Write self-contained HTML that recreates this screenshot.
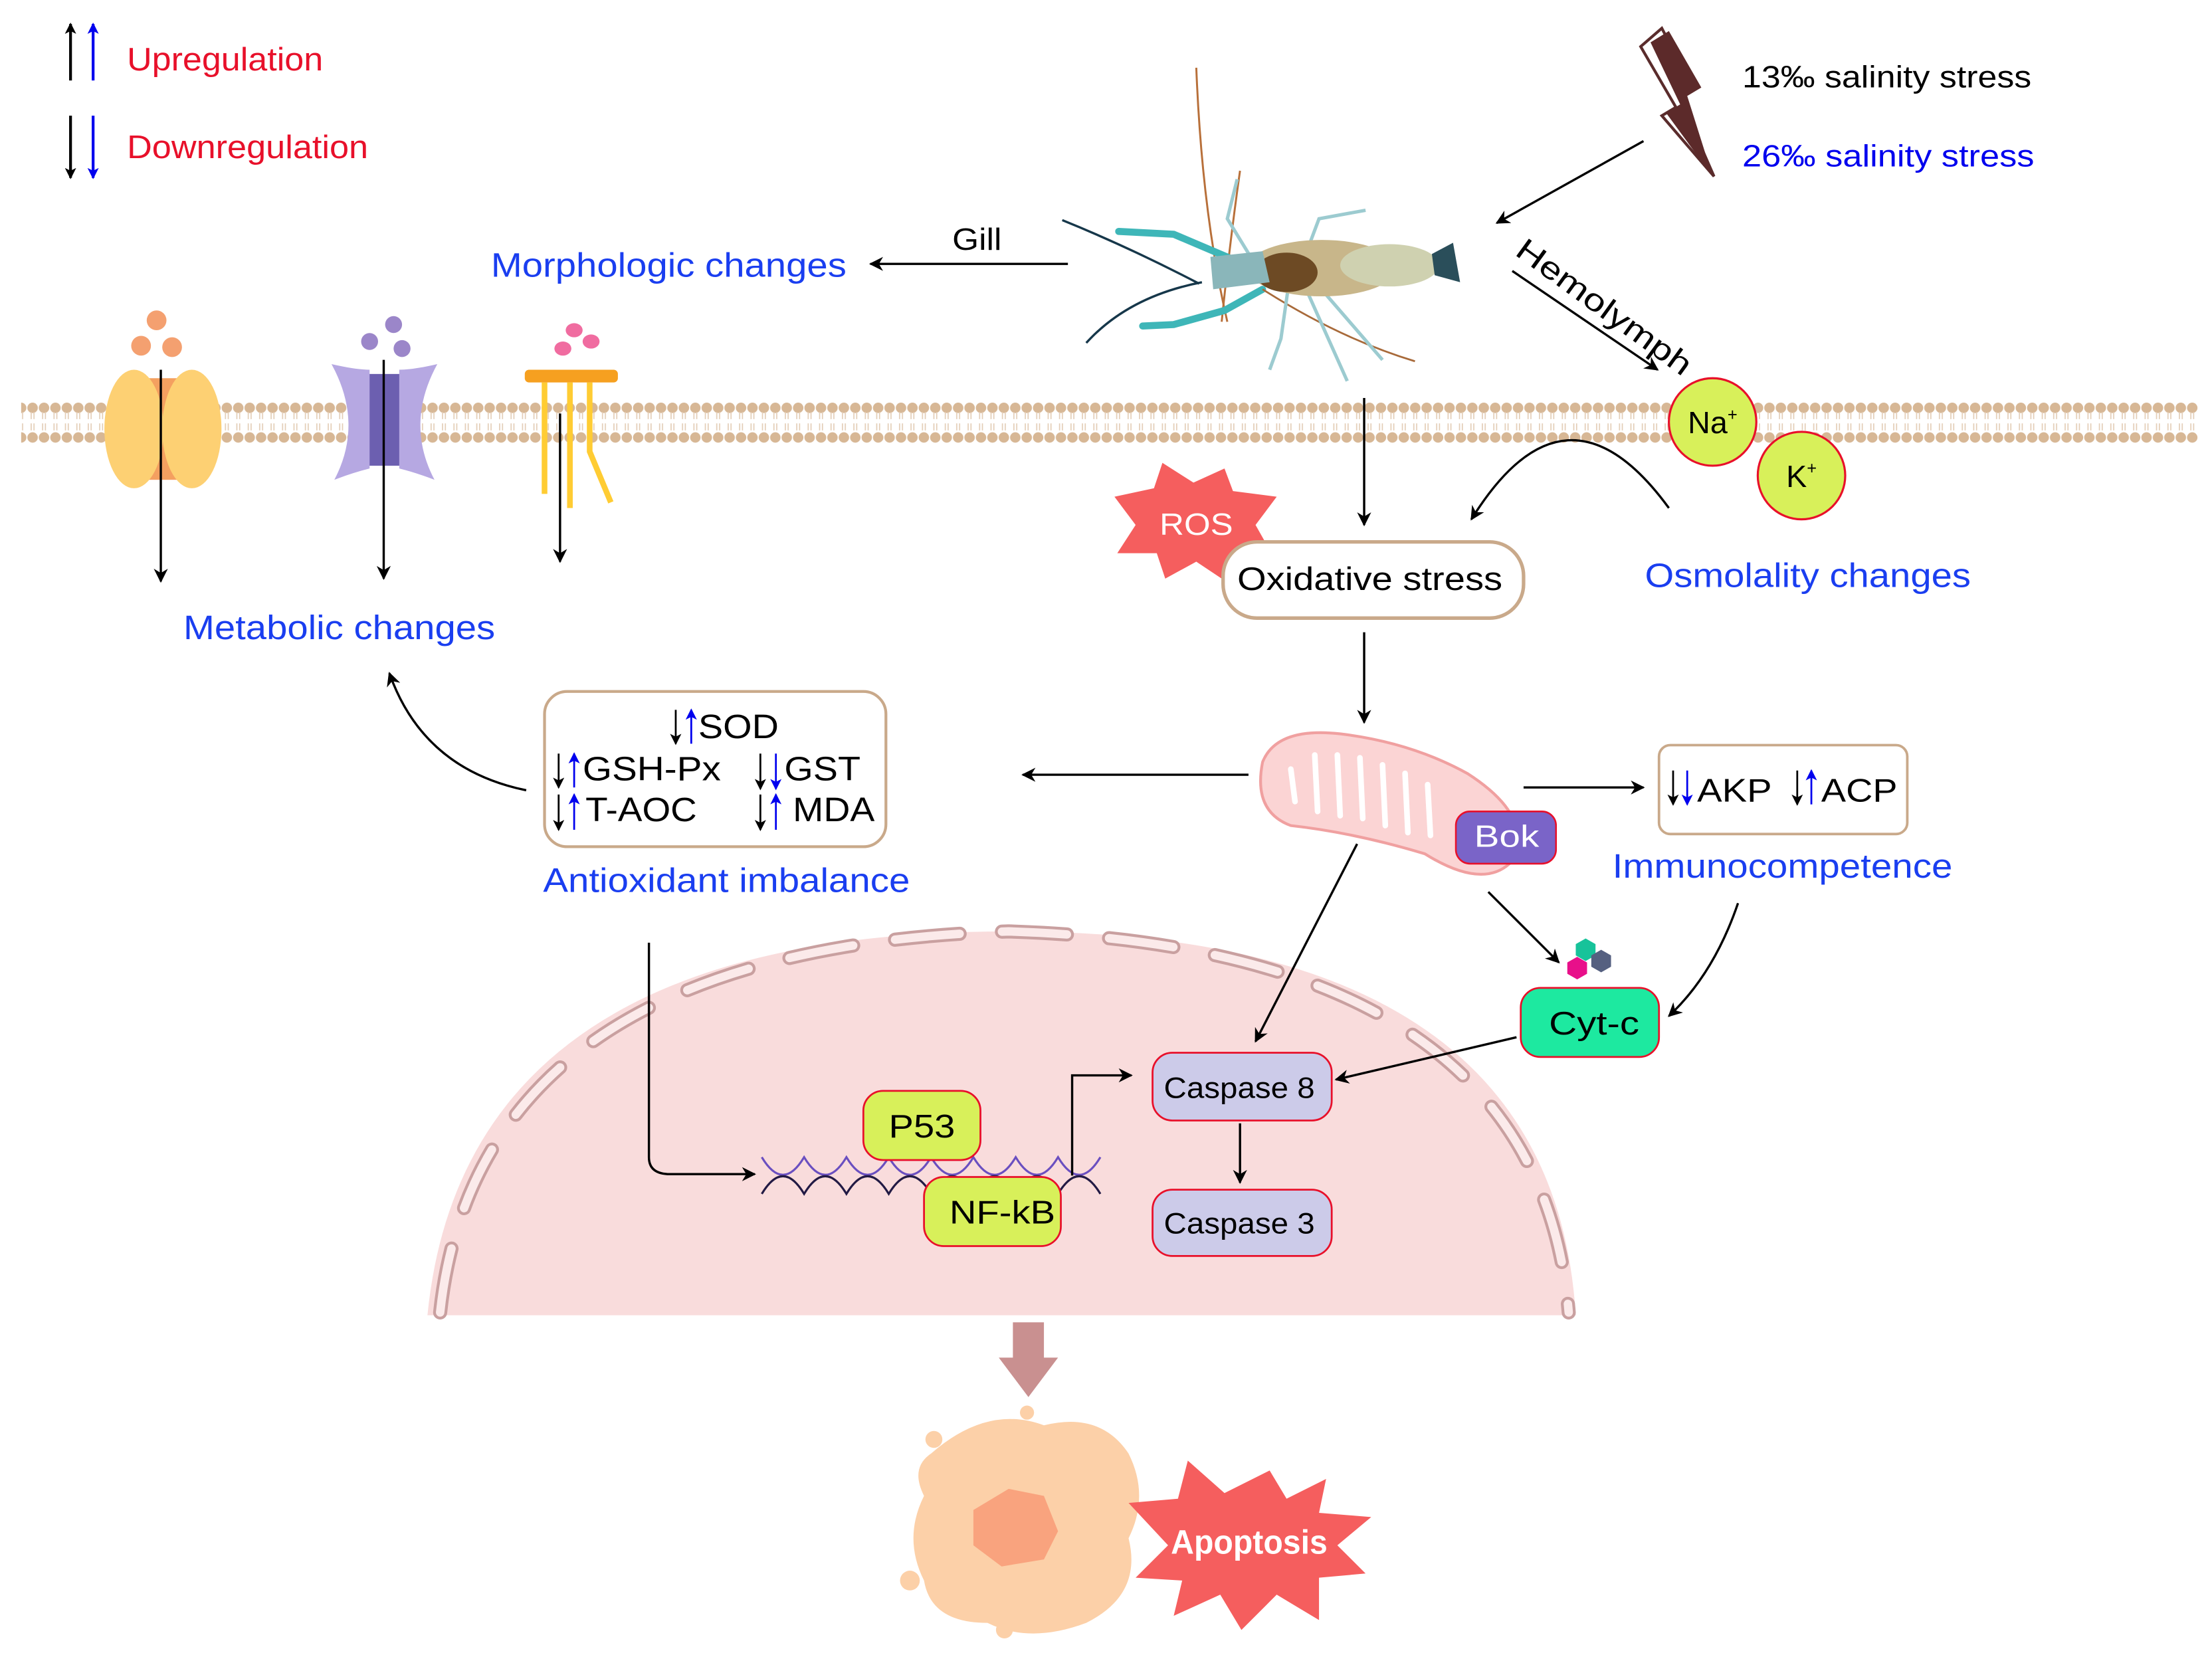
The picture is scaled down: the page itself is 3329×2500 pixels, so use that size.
<!DOCTYPE html>
<html><head><meta charset="utf-8"><style>
html,body{margin:0;padding:0;background:#fff;}
svg{display:block;font-family:"Liberation Sans",Arial,sans-serif;}
</style></head><body>
<svg width="3329" height="2500" viewBox="0 0 1568 1177" preserveAspectRatio="none" xmlns="http://www.w3.org/2000/svg">
<defs>
<marker id="a" markerWidth="10" markerHeight="10" refX="9" refY="5" orient="auto" markerUnits="userSpaceOnUse"><path d="M0,0 L10,5 L0,10 L3,5 z" fill="#000"/></marker>
<marker id="ab" markerWidth="8" markerHeight="8" refX="7" refY="4" orient="auto" markerUnits="userSpaceOnUse"><path d="M0,0 L8,4 L0,8 L2,4 z" fill="#0000ee"/></marker>
<marker id="ak" markerWidth="8" markerHeight="8" refX="7" refY="4" orient="auto" markerUnits="userSpaceOnUse"><path d="M0,0 L8,4 L0,8 L2,4 z" fill="#000"/></marker>
<pattern id="memtop" x="11" y="282" width="8.1" height="40" patternUnits="userSpaceOnUse">
<circle cx="4" cy="7" r="3.7" fill="#d7b795"/>
<line x1="3" y1="10" x2="3" y2="15" stroke="#e3cdb6" stroke-width="0.8"/>
<line x1="5" y1="10" x2="5" y2="15" stroke="#e3cdb6" stroke-width="0.8"/>
<line x1="3" y1="18" x2="3" y2="23" stroke="#e3cdb6" stroke-width="0.8"/>
<line x1="5" y1="18" x2="5" y2="23" stroke="#e3cdb6" stroke-width="0.8"/>
<circle cx="4" cy="28" r="3.7" fill="#d7b795"/>
</pattern>
</defs>

<!-- legend -->
<line x1="50" y1="57" x2="50" y2="17" stroke="#000" stroke-width="2" marker-end="url(#ak)"/>
<line x1="66" y1="57" x2="66" y2="17" stroke="#0000ee" stroke-width="2" marker-end="url(#ab)"/>
<text x="90" y="50" font-size="23" fill="#e8102a" textLength="139" lengthAdjust="spacingAndGlyphs">Upregulation</text>
<line x1="50" y1="82" x2="50" y2="126" stroke="#000" stroke-width="2" marker-end="url(#ak)"/>
<line x1="66" y1="82" x2="66" y2="126" stroke="#0000ee" stroke-width="2" marker-end="url(#ab)"/>
<text x="90" y="112" font-size="23" fill="#e8102a" textLength="171" lengthAdjust="spacingAndGlyphs">Downregulation</text>

<!-- lightning -->
<path d="M1163,33 L1178,20 L1200,62 L1190,68 L1215,125 L1178,82 L1188,76 Z" fill="#fff" stroke="#5a2c2c" stroke-width="2"/>
<path d="M1170,30 L1183,22 L1206,62 L1196,68 L1214,125 L1181,80 L1191,74 Z" fill="#5c2a2a"/>
<text x="1235" y="62" font-size="22" fill="#000" textLength="205" lengthAdjust="spacingAndGlyphs">13‰ salinity stress</text>
<text x="1235" y="118" font-size="22" fill="#0000ee" textLength="207" lengthAdjust="spacingAndGlyphs">26‰ salinity stress</text>
<line x1="1165" y1="100" x2="1061" y2="158" stroke="#000" stroke-width="1.6" marker-end="url(#a)"/>

<!-- shrimp -->
<g>
<path d="M848,48 Q852,150 870,228" stroke="#b8703a" stroke-width="1.4" fill="none"/>
<path d="M879,121 Q872,170 866,228" stroke="#b8703a" stroke-width="1.4" fill="none"/>
<path d="M753,156 Q800,175 850,201" stroke="#16374a" stroke-width="1.6" fill="none"/>
<path d="M770,243 Q800,210 852,200" stroke="#16374a" stroke-width="1.6" fill="none"/>
<path d="M793,164 L832,166 L872,183" stroke="#3eb6b8" stroke-width="5" fill="none" stroke-linecap="round"/>
<path d="M810,231 L832,230 L868,220 L895,205" stroke="#3eb6b8" stroke-width="5" fill="none" stroke-linecap="round"/>
<path d="M895,205 Q950,240 1003,256" stroke="#a86a3a" stroke-width="1.3" fill="none"/>
<g stroke="#9ccbd0" stroke-width="2.4" fill="none">
<path d="M892,191 L870,155 L877,127"/><path d="M923,187 L935,155 L968,149"/>
<path d="M913,205 L908,240 L900,262"/><path d="M925,203 L955,270"/><path d="M935,203 L980,255"/>
</g>
<ellipse cx="937" cy="190" rx="53" ry="20" fill="#c8b68a"/>
<ellipse cx="912" cy="193" rx="22" ry="14" fill="#6d4a24"/>
<ellipse cx="985" cy="188" rx="35" ry="15" fill="#cfd1b0"/>
<path d="M1015,180 L1030,172 L1035,200 L1017,195 Z" fill="#2a4e5a"/>
<path d="M858,182 L895,178 L900,200 L860,205 Z" fill="#8ab6ba"/>
</g>

<!-- gill -->
<text x="675" y="177" font-size="22" textLength="35" lengthAdjust="spacingAndGlyphs">Gill</text>
<line x1="757" y1="187" x2="617" y2="187" stroke="#000" stroke-width="1.6" marker-end="url(#a)"/>
<text x="348" y="196" font-size="24" fill="#1a3ef0" textLength="252" lengthAdjust="spacingAndGlyphs">Morphologic changes</text>

<!-- hemolymph -->
<text x="1073" y="180" font-size="22" transform="rotate(36 1073 180)" textLength="148" lengthAdjust="spacingAndGlyphs">Hemolymph</text>
<line x1="1072" y1="192" x2="1175" y2="262" stroke="#000" stroke-width="1.6" marker-end="url(#a)"/>

<!-- membrane -->
<rect x="15" y="282" width="1543" height="40" fill="url(#memtop)"/>

<!-- channels -->
<g>
<circle cx="111" cy="227" r="7" fill="#f4a070"/><circle cx="100" cy="245" r="7" fill="#f4a070"/><circle cx="122" cy="246" r="7" fill="#f4a070"/>
<rect x="95" y="268" width="43" height="72" fill="#f4a060"/>
<ellipse cx="95" cy="304" rx="21" ry="42" fill="#fdd073"/>
<ellipse cx="136" cy="304" rx="21" ry="42" fill="#fdd073"/>
<circle cx="279" cy="230" r="6" fill="#9b86c9"/><circle cx="262" cy="242" r="6" fill="#9b86c9"/><circle cx="285" cy="247" r="6" fill="#9b86c9"/>
<rect x="255" y="265" width="35" height="65" fill="#6c5fb0"/>
<path d="M235,258 Q252,262 262,262 L262,332 Q250,335 237,340 Q258,300 235,258 Z" fill="#b6a8e2"/>
<path d="M310,258 Q293,262 283,262 L283,332 Q295,335 308,340 Q287,300 310,258 Z" fill="#b6a8e2"/>
<ellipse cx="407" cy="234" rx="6" ry="5" fill="#f06ca0"/><ellipse cx="399" cy="247" rx="6" ry="5" fill="#f06ca0"/><ellipse cx="419" cy="242" rx="6" ry="5" fill="#f06ca0"/>
<rect x="372" y="262" width="66" height="9" rx="3" fill="#f6a020"/>
<line x1="386" y1="271" x2="386" y2="350" stroke="#ffcc33" stroke-width="4"/>
<line x1="404" y1="271" x2="404" y2="360" stroke="#ffcc33" stroke-width="4"/>
<path d="M418,271 L418,320 L433,356" stroke="#ffcc33" stroke-width="4" fill="none"/>
</g>
<line x1="114" y1="262" x2="114" y2="412" stroke="#000" stroke-width="1.6" marker-end="url(#a)"/>
<line x1="272" y1="255" x2="272" y2="410" stroke="#000" stroke-width="1.6" marker-end="url(#a)"/>
<line x1="397" y1="293" x2="397" y2="398" stroke="#000" stroke-width="1.6" marker-end="url(#a)"/>
<text x="130" y="453" font-size="24" fill="#1a3ef0" textLength="221" lengthAdjust="spacingAndGlyphs">Metabolic changes</text>

<!-- oxidative -->
<line x1="967" y1="282" x2="967" y2="372" stroke="#000" stroke-width="1.6" marker-end="url(#a)"/>
<path d="M790,352 L818,346 L824,328 L846,342 L868,332 L874,348 L905,352 L890,372 L903,395 L875,395 L866,410 L848,398 L826,410 L820,392 L792,392 L805,372 Z" fill="#f55e5e"/>
<text x="822" y="379" font-size="22" fill="#fff" textLength="52" lengthAdjust="spacingAndGlyphs">ROS</text>
<rect x="867" y="384" width="213" height="54" rx="24" fill="#fff" stroke="#c9a98a" stroke-width="2.5"/>
<text x="877" y="418" font-size="23" textLength="188" lengthAdjust="spacingAndGlyphs">Oxidative stress</text>
<circle cx="1214" cy="299" r="31" fill="#d8f05a" stroke="#e8102a" stroke-width="1.5"/>
<text x="1214" y="307" font-size="22" text-anchor="middle">Na<tspan font-size="12" dy="-9">+</tspan></text>
<circle cx="1277" cy="337" r="31" fill="#d8f05a" stroke="#e8102a" stroke-width="1.5"/>
<text x="1277" y="345" font-size="22" text-anchor="middle">K<tspan font-size="12" dy="-9">+</tspan></text>
<path d="M1183,360 Q1110,260 1043,368" stroke="#000" stroke-width="1.6" fill="none" marker-end="url(#a)"/>
<text x="1166" y="416" font-size="24" fill="#1a3ef0" textLength="231" lengthAdjust="spacingAndGlyphs">Osmolality changes</text>
<line x1="967" y1="448" x2="967" y2="512" stroke="#000" stroke-width="1.6" marker-end="url(#a)"/>

<!-- mitochondrion -->
<path d="M895,540 Q905,515 950,520 Q1000,526 1040,548 Q1090,580 1070,612 Q1050,630 1010,605 Q960,590 915,585 Q888,575 895,540 Z" fill="#fbd4d4" stroke="#f0a0a0" stroke-width="2"/>
<g stroke="#fff" stroke-width="4" fill="none" stroke-linecap="round">
<path d="M915,545 L918,568"/><path d="M932,535 L934,575"/><path d="M948,535 L950,578"/><path d="M964,537 L966,580"/><path d="M980,542 L982,585"/><path d="M996,548 L998,590"/><path d="M1012,556 L1014,592"/>
</g>
<rect x="1032" y="575" width="71" height="37" rx="10" fill="#7a64c8" stroke="#e8102a" stroke-width="1.2"/>
<text x="1045" y="600" font-size="22" fill="#fff" textLength="46" lengthAdjust="spacingAndGlyphs">Bok</text>
<line x1="885" y1="549" x2="725" y2="549" stroke="#000" stroke-width="1.6" marker-end="url(#a)"/>
<line x1="1080" y1="558" x2="1165" y2="558" stroke="#000" stroke-width="1.6" marker-end="url(#a)"/>

<!-- AKP box -->
<rect x="1176" y="528" width="176" height="63" rx="8" fill="#fff" stroke="#c9a98a" stroke-width="1.8"/>
<line x1="1186" y1="546" x2="1186" y2="570" stroke="#000" stroke-width="1.3" marker-end="url(#ak)"/>
<line x1="1196" y1="546" x2="1196" y2="570" stroke="#0000ee" stroke-width="1.3" marker-end="url(#ab)"/>
<text x="1203" y="568" font-size="23" textLength="53" lengthAdjust="spacingAndGlyphs">AKP</text>
<line x1="1274" y1="546" x2="1274" y2="570" stroke="#000" stroke-width="1.3" marker-end="url(#ak)"/>
<line x1="1284" y1="570" x2="1284" y2="546" stroke="#0000ee" stroke-width="1.3" marker-end="url(#ab)"/>
<text x="1291" y="568" font-size="23" textLength="54" lengthAdjust="spacingAndGlyphs">ACP</text>
<text x="1143" y="622" font-size="24" fill="#1a3ef0" textLength="241" lengthAdjust="spacingAndGlyphs">Immunocompetence</text>

<!-- antioxidant box -->
<rect x="386" y="490" width="242" height="110" rx="16" fill="#fff" stroke="#c9a98a" stroke-width="2"/>
<g stroke-width="1.3">
<line x1="479" y1="503" x2="479" y2="527" stroke="#000" marker-end="url(#ak)"/>
<line x1="490" y1="527" x2="490" y2="503" stroke="#0000ee" marker-end="url(#ab)"/>
<line x1="396" y1="534" x2="396" y2="558" stroke="#000" marker-end="url(#ak)"/>
<line x1="407" y1="558" x2="407" y2="534" stroke="#0000ee" marker-end="url(#ab)"/>
<line x1="539" y1="534" x2="539" y2="559" stroke="#000" marker-end="url(#ak)"/>
<line x1="550" y1="534" x2="550" y2="559" stroke="#0000ee" marker-end="url(#ab)"/>
<line x1="396" y1="563" x2="396" y2="588" stroke="#000" marker-end="url(#ak)"/>
<line x1="407" y1="588" x2="407" y2="563" stroke="#0000ee" marker-end="url(#ab)"/>
<line x1="539" y1="563" x2="539" y2="588" stroke="#000" marker-end="url(#ak)"/>
<line x1="550" y1="588" x2="550" y2="563" stroke="#0000ee" marker-end="url(#ab)"/>
</g>
<text x="495" y="523" font-size="24" textLength="57" lengthAdjust="spacingAndGlyphs">SOD</text>
<text x="413" y="553" font-size="24" textLength="98" lengthAdjust="spacingAndGlyphs">GSH-Px</text>
<text x="556" y="553" font-size="24" textLength="54" lengthAdjust="spacingAndGlyphs">GST</text>
<text x="415" y="582" font-size="24" textLength="79" lengthAdjust="spacingAndGlyphs">T-AOC</text>
<text x="562" y="582" font-size="24" textLength="58" lengthAdjust="spacingAndGlyphs">MDA</text>
<text x="385" y="632" font-size="24" fill="#1a3ef0" textLength="260" lengthAdjust="spacingAndGlyphs">Antioxidant imbalance</text>
<path d="M373,560 Q300,545 276,477" stroke="#000" stroke-width="1.6" fill="none" marker-end="url(#a)"/>

<!-- nucleus -->
<path d="M303,932 Q330,660 715,660 Q1100,660 1117,932 Z" fill="#f9dcdc"/>
<path d="M312,930 Q340,672 715,660 Q1090,672 1112,930" fill="none" stroke="#c9a0a0" stroke-width="10" stroke-dasharray="46 30" stroke-linecap="round"/>
<path d="M312,930 Q340,672 715,660 Q1090,672 1112,930" fill="none" stroke="#fbeaea" stroke-width="6" stroke-dasharray="46 30" stroke-linecap="round"/>

<!-- DNA -->
<path d="M540,820 Q555,845 570,820 Q585,845 600,820 Q615,845 630,820 Q645,845 660,820 Q675,845 690,820 Q705,845 720,820 Q735,845 750,820 Q765,845 780,820" stroke="#6a4fc0" stroke-width="1.5" fill="none"/>
<path d="M540,846 Q555,821 570,846 Q585,821 600,846 Q615,821 630,846 Q645,821 660,846 Q675,821 690,846 Q705,821 720,846 Q735,821 750,846 Q765,821 780,846" stroke="#221a44" stroke-width="1.5" fill="none"/>
<path d="M460,668 L460,820 Q460,832 475,832 L535,832" stroke="#000" stroke-width="1.6" fill="none" marker-end="url(#a)"/>
<rect x="612" y="773" width="83" height="49" rx="14" fill="#d8f05a" stroke="#e8102a" stroke-width="1.3"/>
<text x="630" y="806" font-size="23" textLength="47" lengthAdjust="spacingAndGlyphs">P53</text>
<rect x="655" y="834" width="97" height="49" rx="14" fill="#d8f05a" stroke="#e8102a" stroke-width="1.3"/>
<text x="673" y="867" font-size="23" textLength="75" lengthAdjust="spacingAndGlyphs">NF-kB</text>
<path d="M760,833 L760,762 L802,762" stroke="#000" stroke-width="1.6" fill="none" marker-end="url(#a)"/>
<rect x="817" y="746" width="127" height="48" rx="14" fill="#cccbe9" stroke="#e8102a" stroke-width="1.3"/>
<text x="825" y="778" font-size="21" textLength="107" lengthAdjust="spacingAndGlyphs">Caspase 8</text>
<rect x="817" y="843" width="127" height="47" rx="14" fill="#cccbe9" stroke="#e8102a" stroke-width="1.3"/>
<text x="825" y="874" font-size="21" textLength="107" lengthAdjust="spacingAndGlyphs">Caspase 3</text>
<line x1="879" y1="796" x2="879" y2="838" stroke="#000" stroke-width="1.6" marker-end="url(#a)"/>
<line x1="962" y1="598" x2="890" y2="738" stroke="#000" stroke-width="1.6" marker-end="url(#a)"/>
<line x1="1055" y1="632" x2="1105" y2="682" stroke="#000" stroke-width="1.6" marker-end="url(#a)"/>
<polygon points="1124,665 1131,669 1131,677 1124,681 1117,677 1117,669" fill="#17c39a"/>
<polygon points="1135,673 1142,677 1142,685 1135,689 1128,685 1128,677" fill="#556080"/>
<polygon points="1118,678 1125,682 1125,690 1118,694 1111,690 1111,682" fill="#e8108a"/>
<rect x="1078" y="700" width="98" height="49" rx="14" fill="#1de9a0" stroke="#e8102a" stroke-width="1.3"/>
<text x="1098" y="733" font-size="23" textLength="64" lengthAdjust="spacingAndGlyphs">Cyt-c</text>
<path d="M1232,640 Q1215,690 1183,720" stroke="#000" stroke-width="1.6" fill="none" marker-end="url(#a)"/>
<line x1="1075" y1="735" x2="947" y2="765" stroke="#000" stroke-width="1.6" marker-end="url(#a)"/>

<!-- big arrow -->
<path d="M718,937 L740,937 L740,962 L750,962 L729,990 L708,962 L718,962 Z" fill="#c99090"/>

<!-- apoptotic cell -->
<path d="M660,1030 Q700,995 740,1010 Q780,1000 800,1030 Q815,1060 800,1090 Q810,1130 770,1150 Q730,1165 700,1150 Q660,1150 655,1120 Q640,1090 655,1060 Q645,1040 660,1030 Z" fill="#fcd0a8"/>
<circle cx="728" cy="1001" r="5" fill="#fcd0a8"/><circle cx="662" cy="1020" r="6" fill="#fcd0a8"/>
<circle cx="645" cy="1120" r="7" fill="#fcd0a8"/><circle cx="712" cy="1155" r="6" fill="#fcd0a8"/><circle cx="780" cy="1020" r="5" fill="#fcd0a8"/>
<path d="M690,1070 L715,1055 L740,1060 L750,1085 L740,1105 L710,1110 L690,1095 Z" fill="#f9a37e"/>
<path d="M800,1065 L835,1062 L842,1035 L868,1058 L900,1042 L912,1062 L940,1048 L935,1072 L972,1075 L948,1095 L968,1115 L935,1118 L935,1148 L905,1130 L880,1155 L865,1130 L832,1145 L838,1120 L805,1118 L828,1095 Z" fill="#f55e5e"/>
<text x="830" y="1101" font-size="24" font-weight="bold" fill="#fff" textLength="111" lengthAdjust="spacingAndGlyphs">Apoptosis</text>
</svg>
</body></html>
